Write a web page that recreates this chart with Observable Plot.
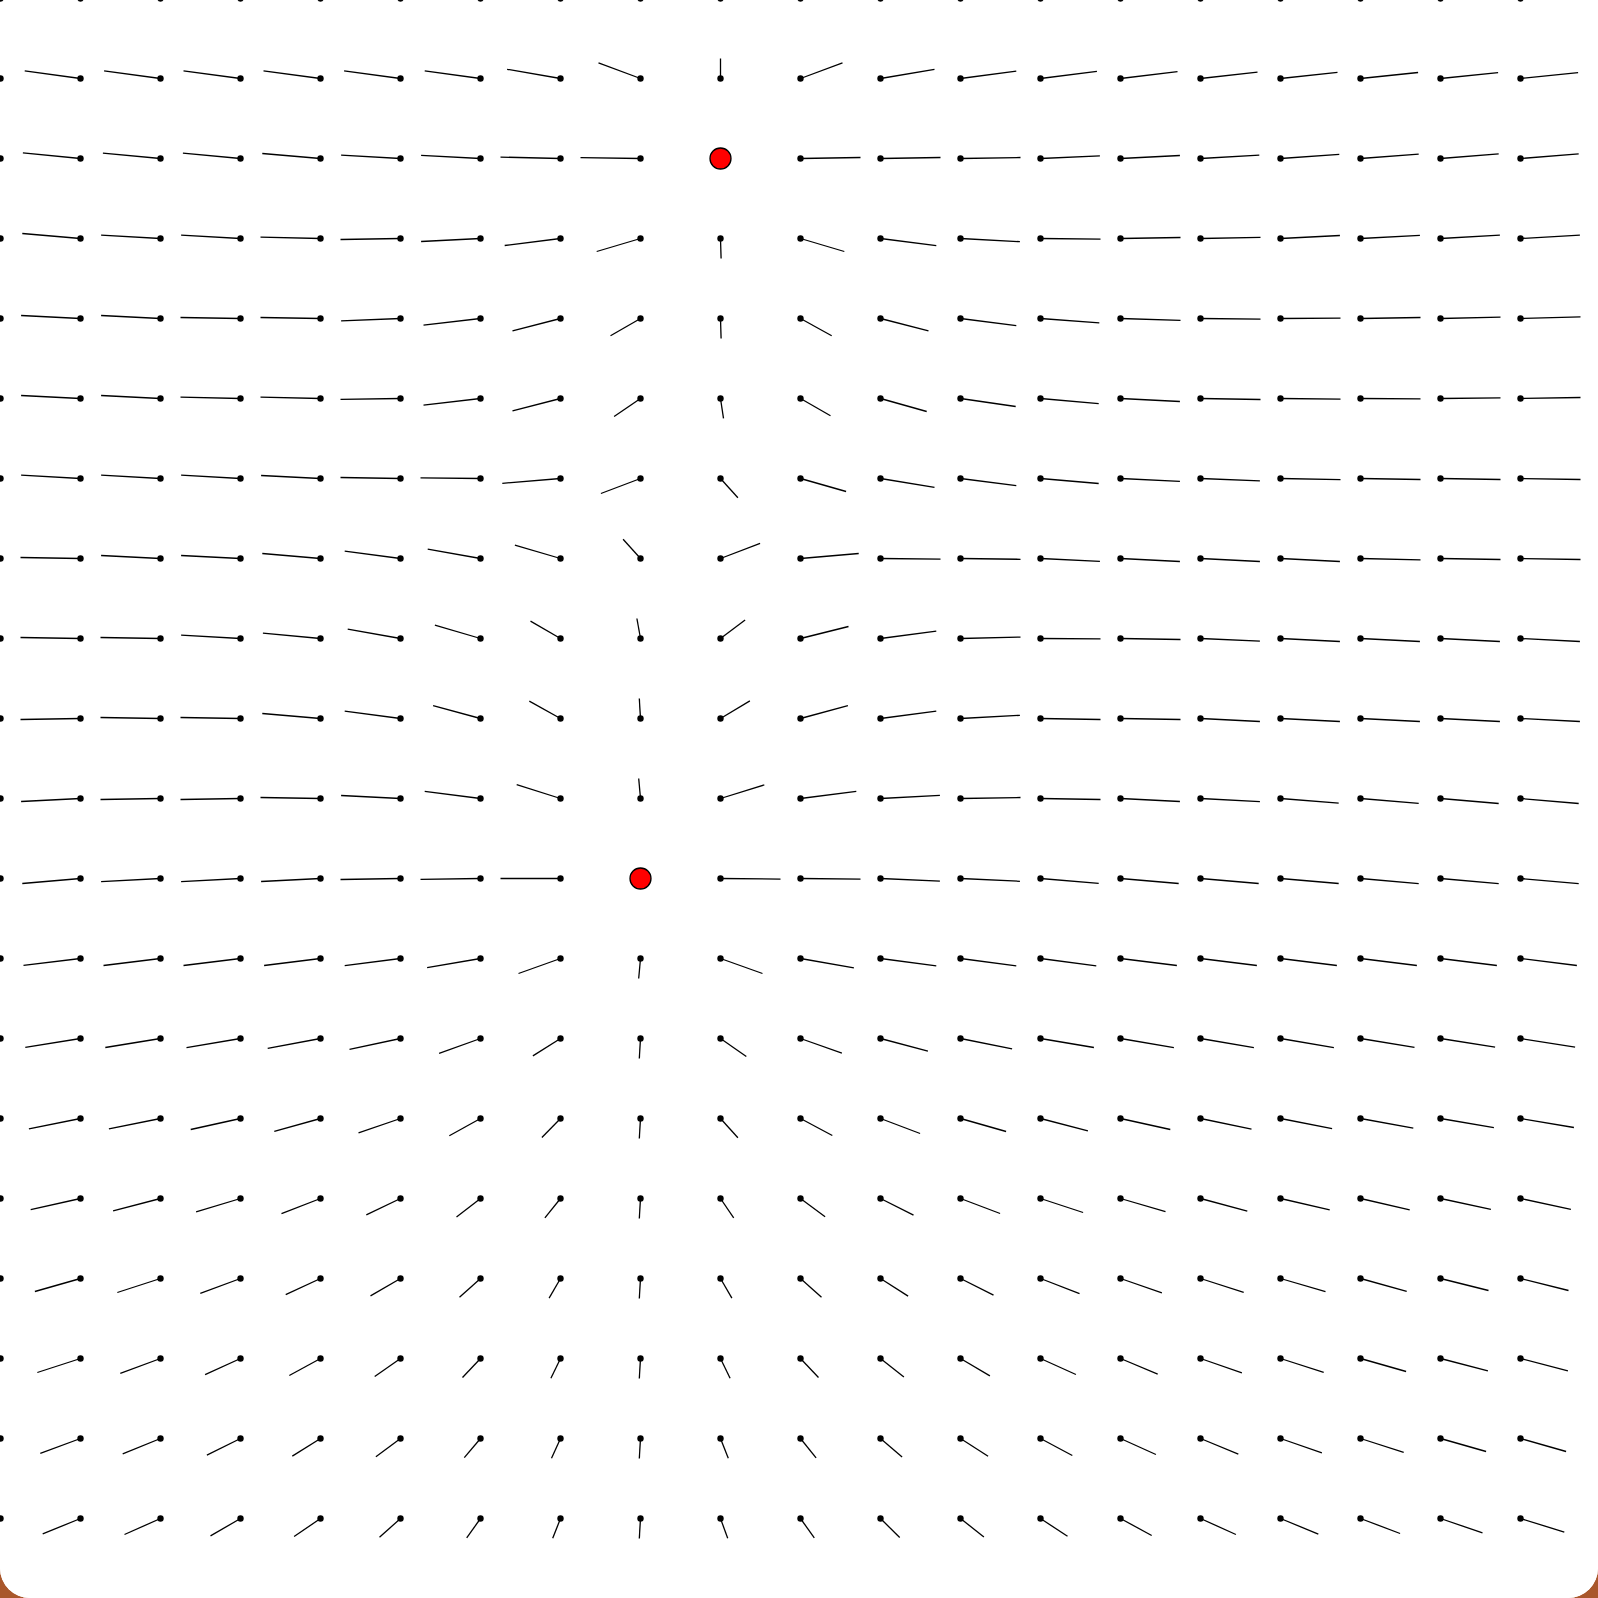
<!DOCTYPE html>
<html>
<head>
<meta charset="utf-8">
<script src="https://cdn.jsdelivr.net/npm/d3@7"></script>
<script src="https://cdn.jsdelivr.net/npm/@observablehq/plot@0.6"></script>
<style>
  html, body { margin: 0; padding: 0; width: 1598px; height: 1598px; overflow: hidden; background: #a9572b; }
  #card { position: absolute; left: 0; top: 0; width: 1598px; height: 1598px; background: #fff;
          border-radius: 0 0 30px 30px; overflow: hidden; }
</style>
</head>
<body>
<div id="card"></div>
<script>
// Grid: 20 columns x 20 rows of sample points
const cols = d3.range(20);
const rows = d3.range(20);

// Point sources (grid coordinates)
const sources = [
  {col: 9, row: 2},
  {col: 8, row: 11}
];

// Field direction, horizontal component (unit direction)
const fieldU = [
  [-.88,-.87,-.86,-.84,-.81,-.77,-.69,-.55,-.30,0,.30,.55,.69,.77,.81,.84,.86,.87,.88,.89],
  [-.92,-.93,-.94,-.95,-.95,-.94,-.93,-.89,-.70,0,.70,.90,.93,.94,.95,.95,.95,.96,.96,.96],
  [-.96,-.96,-.96,-.96,-.97,-.99,-.99,-1,-1,null,1,1,1,.99,.99,.98,.98,.97,.97,.97],
  [-.97,-.97,-.99,-.99,-1,-1,-.99,-.93,-.73,.01,.73,.93,.99,1,1,1,.99,.99,.99,.99],
  [-.99,-.99,-.99,-1,-1,-.99,-.95,-.80,-.50,.01,.52,.80,.93,.98,1,1,1,1,1,1],
  [-.99,-.99,-.99,-1,-1,-1,-.95,-.80,-.44,.05,.50,.77,.92,.97,.99,1,1,1,1,1],
  [-.99,-.99,-.99,-.99,-.99,-1,-1,-.97,-.66,.29,.76,.90,.93,.97,.99,.99,1,1,1,1],
  [-1,-1,-.99,-.99,-.97,-.93,-.88,-.76,-.29,.66,.97,1,1,.99,.99,.99,.99,1,1,1],
  [-1,-1,-1,-.99,-.96,-.88,-.76,-.50,-.06,.41,.80,.93,1,1,1,.99,.99,.99,.99,.99],
  [-1,-1,-1,-1,-.97,-.93,-.79,-.52,-.02,.49,.79,.93,.99,1,1,.99,.99,.99,.99,.99],
  [-.99,-.99,-1,-1,-1,-.99,-.93,-.73,-.03,.73,.93,.99,1,1,.99,.99,.97,.97,.97,.97],
  [-.97,-.97,-.99,-.99,-.99,-1,-1,-1,null,1,1,.99,.99,.97,.97,.97,.97,.97,.97,.97],
  [-.95,-.95,-.95,-.95,-.94,-.93,-.89,-.70,-.03,.70,.89,.93,.93,.93,.94,.94,.94,.94,.94,.94],
  [-.92,-.92,-.92,-.90,-.88,-.85,-.69,-.46,-.02,.43,.69,.79,.86,.89,.89,.89,.89,.90,.91,.91],
  [-.86,-.86,-.86,-.83,-.77,-.70,-.52,-.31,-.02,.29,.53,.66,.76,.79,.83,.85,.86,.88,.89,.89],
  [-.83,-.83,-.79,-.74,-.65,-.57,-.40,-.26,-.02,.22,.41,.55,.66,.71,.75,.78,.82,.82,.84,.84],
  [-.77,-.76,-.72,-.67,-.58,-.50,-.35,-.19,-.02,.19,.35,.46,.55,.65,.69,.72,.75,.77,.80,.80],
  [-.73,-.72,-.67,-.59,-.52,-.43,-.30,-.16,-.02,.16,.30,.39,.49,.59,.62,.69,.72,.76,.79,.79],
  [-.68,-.67,-.63,-.56,-.47,-.41,-.27,-.15,-.02,.13,.26,.36,.46,.53,.59,.63,.69,.72,.76,.76],
  [-.63,-.63,-.60,-.50,-.44,-.35,-.23,-.13,-.02,.12,.23,.32,.39,.45,.52,.59,.63,.66,.70,.73]
];

// Field direction, vertical component (downward positive)
const fieldV = [
  [-.48,-.49,-.51,-.54,-.58,-.64,-.72,-.83,-.95,-1,-.95,-.83,-.72,-.64,-.58,-.54,-.51,-.49,-.47,-.46],
  [-.37,-.38,-.38,-.38,-.38,-.38,-.38,-.46,-.78,-1,-.78,-.46,-.37,-.36,-.34,-.32,-.31,-.30,-.29,-.29],
  [-.28,-.28,-.27,-.27,-.25,-.17,-.16,-.07,-.04,null,-.05,-.05,-.05,-.13,-.15,-.17,-.21,-.22,-.23,-.23],
  [-.25,-.25,-.17,-.17,-.07,.05,.15,.35,.65,1,.65,.36,.16,.03,-.05,-.06,-.15,-.16,-.17,-.17],
  [-.15,-.15,-.15,-.05,-.05,.12,.33,.62,.86,1,.86,.62,.36,.22,.09,.03,-.02,-.05,-.07,-.08],
  [-.15,-.15,-.15,-.07,-.07,.04,.33,.62,.90,.99,.86,.65,.40,.26,.15,.05,.03,.02,-.03,-.05],
  [-.17,-.17,-.17,-.17,-.15,-.05,-.03,.24,.75,.96,.65,.44,.36,.25,.14,.12,.06,.05,.05,.05],
  [-.05,-.05,-.15,-.15,-.25,-.37,-.47,-.67,-.96,-.76,-.25,.03,.04,.14,.15,.15,.15,.07,.05,.05],
  [-.03,-.05,-.05,-.17,-.27,-.47,-.67,-.87,-1,-.92,-.60,-.37,-.07,.02,.05,.13,.15,.15,.15,.15],
  [.05,.05,-.05,-.05,-.25,-.37,-.64,-.87,-1,-.88,-.64,-.37,-.16,.05,.05,.15,.15,.15,.15,.15],
  [.15,.15,.05,.05,-.05,-.15,-.36,-.69,-1,-.68,-.36,-.16,-.05,.05,.15,.16,.23,.24,.25,.25],
  [.25,.25,.16,.16,.15,.05,.04,0,null,.03,.03,.13,.14,.24,.25,.25,.25,.26,.26,.26],
  [.33,.34,.35,.35,.35,.36,.46,.75,1,.75,.47,.37,.37,.37,.35,.35,.35,.35,.35,.35],
  [.43,.44,.45,.46,.49,.54,.74,.87,1,.90,.73,.63,.52,.45,.46,.46,.46,.44,.43,.43],
  [.51,.52,.52,.55,.64,.72,.86,.95,1,.96,.85,.75,.65,.62,.55,.53,.51,.48,.46,.45],
  [.56,.56,.62,.67,.76,.82,.92,.97,1,.97,.91,.83,.75,.70,.66,.63,.57,.57,.54,.54],
  [.64,.65,.70,.74,.81,.87,.94,.98,1,.98,.94,.88,.83,.76,.72,.69,.66,.64,.60,.60],
  [.69,.70,.74,.81,.85,.90,.95,.99,1,.99,.95,.92,.87,.80,.78,.72,.69,.65,.62,.62],
  [.73,.74,.77,.83,.88,.91,.96,.99,1,.99,.97,.93,.89,.85,.80,.78,.72,.69,.65,.65],
  [.77,.77,.80,.87,.90,.94,.97,.99,1,.99,.97,.95,.92,.89,.85,.80,.78,.75,.72,.68]
];

// Build table
const points = [];
for (const r of rows) for (const c of cols) {
  points.push({col: c, row: r, u: fieldU[r][c], v: fieldV[r][c]});
}
const vectors = points.filter(d => d.u != null);

// direction drawn on a tilted ellipse (horizontal reach 0.75 cell, vertical 0.25 cell)
const HX = 0.75, HY = 0.25;

const chart = Plot.plot({
  width: 1598,
  height: 1598,
  margin: 0,
  style: {background: "white"},
  x: {type: "linear", domain: [0, 1], range: [0, 80], axis: null},
  y: {type: "linear", domain: [0, 1], range: [-2, 78], axis: null},
  marks: [
    Plot.link(vectors, {
      x1: "col", y1: "row",
      x2: d => d.col + HX * d.u,
      y2: d => d.row + HY * d.v,
      stroke: "black", strokeWidth: 1.3
    }),
    Plot.dot(points, {x: "col", y: "row", r: 3.2, fill: "black", stroke: "none"}),
    Plot.dot(sources, {x: "col", y: "row", r: 10.5, fill: "red", stroke: "black", strokeWidth: 1.3})
  ]
});
document.getElementById("card").appendChild(chart);
</script>
</body>
</html>
